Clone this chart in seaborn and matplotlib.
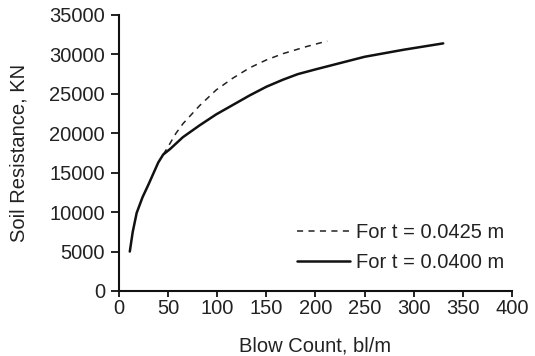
import matplotlib
matplotlib.use("Agg")
import matplotlib.pyplot as plt
import seaborn as sns
import pandas as pd

# blow count (bl/m) vs soil resistance (kN)
blows_0400 = [11, 14, 18, 24, 30, 35, 40, 45, 52, 65, 82, 99, 116, 133, 150,
              167, 182, 200, 225, 250, 290, 330]
resist_0400 = [5000, 7500, 9900, 11900, 13500, 14900, 16300, 17300, 18000, 19500,
               21000, 22400, 23600, 24800, 25900, 26800, 27500, 28100, 28900,
               29700, 30600, 31400]

blows_0425 = [45, 50, 58, 65, 82, 99, 116, 133, 150, 167, 191, 212]
resist_0425 = [17300, 18300, 20000, 21200, 23500, 25500, 27000, 28300, 29300,
               30100, 31000, 31700]

label_0425 = "For t = 0.0425 m"
label_0400 = "For t = 0.0400 m"

sns.set_style("ticks")
plt.rcParams["font.family"] = ["Liberation Sans", "DejaVu Sans"]
plt.rcParams["font.size"] = 14.5

df_a = pd.DataFrame({"x": blows_0425, "y": resist_0425})
df_b = pd.DataFrame({"x": blows_0400, "y": resist_0400})

fig = plt.figure(figsize=(5.35, 3.56), dpi=100)
ax = fig.add_axes([0.2224, 0.1826, 0.7346, 0.7753])

sns.lineplot(data=df_a, x="x", y="y", ax=ax, color="#222222", lw=1.1,
             linestyle=(0, (4, 3.5)), label=label_0425, sort=False)
sns.lineplot(data=df_b, x="x", y="y", ax=ax, color="#111111", lw=1.8,
             label=label_0400, sort=False)

ax.set_xlim(0, 400)
ax.set_ylim(0, 35000)
ax.set_xticks(range(0, 401, 50))
ax.set_yticks(range(0, 35001, 5000))
ax.tick_params(labelsize=14.5, width=1.3, color="#111111", labelcolor="#222222")
ax.tick_params(axis="y", length=6, pad=4)
ax.tick_params(axis="x", length=4, pad=2)
for s in ["left", "bottom"]:
    ax.spines[s].set_linewidth(1.5)
    ax.spines[s].set_color("#111111")
sns.despine(ax=ax)

ax.set_xlabel("Blow Count, bl/m", fontsize=14.5, color="#222222", labelpad=13)
ax.set_ylabel("Soil Resistance, KN", fontsize=14.5, color="#222222", labelpad=15)

ax.legend(frameon=False, loc="lower right", bbox_to_anchor=(1.0, 0.04),
          borderaxespad=0, fontsize=14.5, handlelength=2.6, handletextpad=0.3,
          labelspacing=0.55, labelcolor="#222222")

fig.savefig("out.png", dpi=100)
